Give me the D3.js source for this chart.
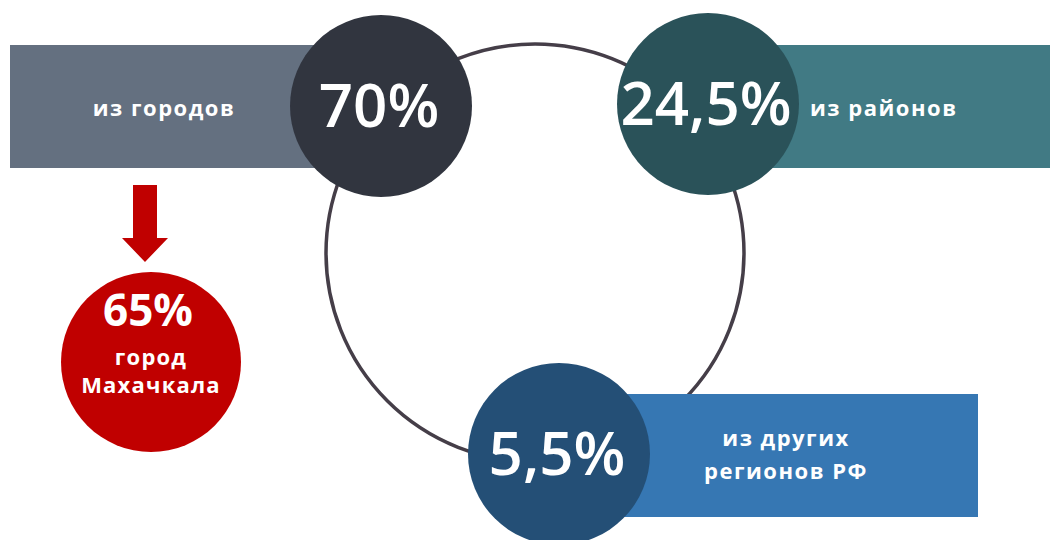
<!DOCTYPE html>
<html>
<head>
<meta charset="utf-8">
<script src="https://cdn.jsdelivr.net/npm/d3@7"></script>
<style>
	body { margin: 0; background: #ffffff; }
	svg { display: block; }
	text { font-family: 'Open Sans', 'DejaVu Sans', sans-serif; fill: #ffffff; }
</style>
</head>
<body>
<script>
'use strict';

// Shares of the total, by origin
const categories = ['cities', 'districts', 'regions'];
const labels     = [['из городов'], ['из районов'], ['из других', 'регионов РФ']];
const values     = ['70%', '24,5%', '5,5%'];

// Breakdown of the city share
const cityValue  = '65%';
const cityLabel  = ['город', 'Махачкала'];

const DIMENSIONS = {
	'canvas' : { 'width' : 1050, 'height': 540 },
	'ring'   : { 'cx' : 535, 'cy' : 253, 'r' : 209 },
	'bubble' : 91,
	'bar'    : 123
};

let circleColor = d3.scaleOrdinal().domain(categories).range(['#31353f', '#2a5259', '#244f76']);
let barColor    = d3.scaleOrdinal().domain(categories).range(['#647080', '#417a84', '#3677b3']);
let bubbleX     = d3.scaleOrdinal().domain(categories).range([381, 708, 559]);
let bubbleY     = d3.scaleOrdinal().domain(categories).range([106, 104, 454]);
// bars: [left edge, right edge] in canvas px
let barSpan     = d3.scaleOrdinal().domain(categories).range([[10, 381], [708, 1050], [559, 978]]);
let barTop      = d3.scaleOrdinal().domain(categories).range([45, 45, 394]);

let data = categories.map((c, i) => ({ key: c, label: labels[i], value: values[i] }));

let svg = d3.select('body').append('svg')
	.attr('width', DIMENSIONS.canvas.width)
	.attr('height', DIMENSIONS.canvas.height);

// Big ring joining the three bubbles
svg.append('circle')
	.attr('cx', DIMENSIONS.ring.cx)
	.attr('cy', DIMENSIONS.ring.cy)
	.attr('r', DIMENSIONS.ring.r)
	.attr('fill', 'none')
	.attr('stroke', '#453e48')
	.attr('stroke-width', 3.5);

// Bars behind the bubbles
svg.selectAll('rect.bar')
	.data(data)
	.enter()
	.append('rect')
	.attr('class', 'bar')
	.attr('x', (d) => barSpan(d.key)[0])
	.attr('y', (d) => barTop(d.key))
	.attr('width', (d) => barSpan(d.key)[1] - barSpan(d.key)[0])
	.attr('height', DIMENSIONS.bar)
	.attr('fill', (d) => barColor(d.key));

svg.selectAll('circle.bubble')
	.data(data)
	.enter()
	.append('circle')
	.attr('class', 'bubble')
	.attr('cx', (d) => bubbleX(d.key))
	.attr('cy', (d) => bubbleY(d.key))
	.attr('r', DIMENSIONS.bubble)
	.attr('fill', (d) => circleColor(d.key));

svg.selectAll('text.value')
	.data(data)
	.enter()
	.append('text')
	.attr('class', 'value')
	.attr('x', (d) => bubbleX(d.key) - 2)
	.attr('y', (d) => bubbleY(d.key) + 21)
	.attr('text-anchor', 'middle')
	.style('font-size', '60px')
	.style('font-weight', 600)
	.text((d) => d.value);

// Label positions relative to each bar
let labelX      = d3.scaleOrdinal().domain(categories).range([164, 810, 786]);
let labelAnchor = d3.scaleOrdinal().domain(categories).range(['middle', 'start', 'middle']);
let labelY      = d3.scaleOrdinal().domain(categories).range([116, 116, 446]);

let labelText = svg.selectAll('text.label')
	.data(data)
	.enter()
	.append('text')
	.attr('class', 'label')
	.attr('text-anchor', (d) => labelAnchor(d.key))
	.style('font-size', '22px')
	.style('font-weight', 700)
	.style('letter-spacing', '1.5px');

labelText.selectAll('tspan')
	.data((d) => d.label.map((t) => ({ t: t, d: d })))
	.enter()
	.append('tspan')
	.attr('x', (e) => labelX(e.d.key))
	.attr('y', (e, i) => labelY(e.d.key) + i * 33)
	.text((e) => e.t);

// Red arrow down to the city breakdown
let arrow = d3.path();
arrow.moveTo(133, 185);
arrow.lineTo(157, 185);
arrow.lineTo(157, 238);
arrow.lineTo(168, 238);
arrow.lineTo(145, 262);
arrow.lineTo(122, 238);
arrow.lineTo(133, 238);
arrow.closePath();
svg.append('path').attr('d', arrow.toString()).attr('fill', '#c00000');

let city = svg.append('g').attr('transform', 'translate(151, 362)');
city.append('circle').attr('r', 90).attr('fill', '#c00000');
city.append('text')
	.attr('text-anchor', 'middle')
	.attr('x', -3)
	.attr('y', -36)
	.style('font-size', '44px')
	.style('font-weight', 700)
	.text(cityValue);
city.selectAll('text.sub')
	.data(cityLabel)
	.enter()
	.append('text')
	.attr('class', 'sub')
	.attr('text-anchor', 'middle')
	.attr('x', 0)
	.attr('y', (d, i) => 3 + i * 28)
	.style('font-size', '22px')
	.style('font-weight', 700)
	.style('letter-spacing', '1.2px')
	.text((d) => d);
</script>
</body>
</html>
